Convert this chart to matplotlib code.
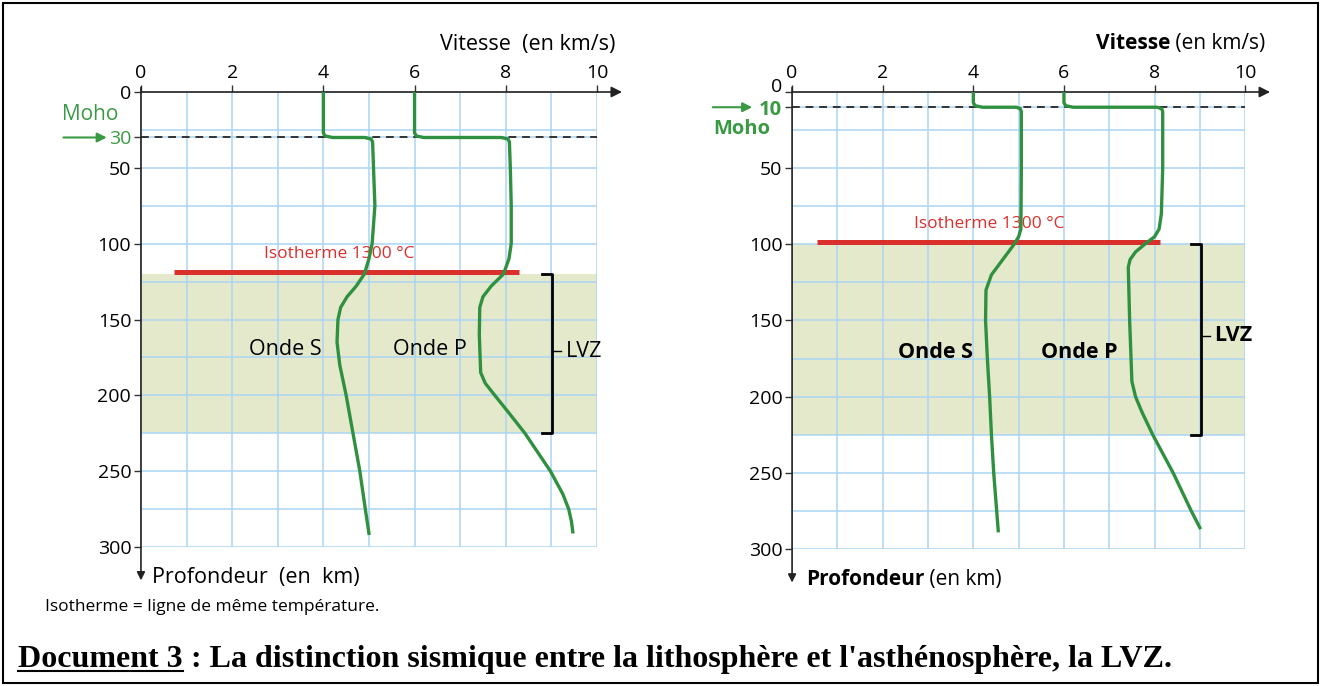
import numpy as np
import matplotlib.pyplot as plt
from matplotlib.patches import Rectangle
from matplotlib.lines import Line2D

plt.rcParams['font.family'] = ['Open Sans', 'DejaVu Sans']

# Panneau gauche : Moho à 30 km
prof_s_g = [0, 27, 29, 30, 30, 31, 33, 50, 75, 100, 110, 120, 128, 135, 142, 150, 165, 180, 190, 200, 225, 250, 275, 291]
vit_s_g = [4.0, 4.0, 4.04, 4.2, 4.9, 5.05, 5.08, 5.1, 5.13, 5.07, 5.0, 4.9, 4.72, 4.52, 4.38, 4.32, 4.3, 4.36, 4.43, 4.5, 4.65, 4.8, 4.92, 5.0]
prof_p_g = [0, 27, 29, 30, 30, 31, 33, 50, 75, 100, 110, 120, 128, 135, 142, 160, 185, 192, 200, 212, 225, 250, 265, 275, 283, 290]
vit_p_g = [6.0, 6.0, 6.04, 6.2, 7.9, 8.05, 8.08, 8.1, 8.12, 8.12, 8.07, 7.95, 7.68, 7.5, 7.43, 7.42, 7.45, 7.55, 7.76, 8.08, 8.42, 8.98, 9.25, 9.38, 9.44, 9.47]

# Panneau droit : Moho à 10 km
prof_s_d = [0, 7, 9, 10, 10, 11, 13, 50, 90, 95, 100, 110, 120, 130, 150, 175, 200, 225, 250, 288]
vit_s_d = [4.0, 4.0, 4.04, 4.2, 4.95, 5.04, 5.06, 5.06, 5.05, 5.0, 4.9, 4.65, 4.4, 4.28, 4.27, 4.31, 4.36, 4.4, 4.45, 4.55]
prof_p_d = [0, 7, 9, 10, 10, 11, 13, 50, 80, 90, 95, 100, 105, 110, 115, 150, 190, 200, 210, 225, 250, 275, 286]
vit_p_d = [6.0, 6.0, 6.04, 6.2, 8.05, 8.16, 8.18, 8.18, 8.15, 8.1, 8.0, 7.78, 7.58, 7.46, 7.42, 7.45, 7.5, 7.58, 7.72, 7.96, 8.41, 8.81, 9.0]

vit_ticks = [0, 2, 4, 6, 8, 10]
prof_ticks = [0, 50, 100, 150, 200, 250, 300]

VERT = '#3a9a44'
VERT_COURBE = '#2f9140'
ROUGE = '#d9302c'
BLEU = '#a9d5f2'
BEIGE = '#e5e9cc'


def panneau(ax, moho, s_prof, s_vit, p_prof, p_vit, lvz, iso, iso_x, lab_y, lvz_y, gras):
    ax.set_xlim(0, 10)
    ax.set_ylim(300, 0)
    for sp in ax.spines.values():
        sp.set_visible(False)
    ax.set_xticks(np.arange(0, 11, 1), minor=True)
    ax.set_yticks(np.arange(0, 301, 25), minor=True)
    ax.set_xticks(vit_ticks)
    ax.set_yticks(sorted(prof_ticks + [moho]))
    ax.xaxis.tick_top()
    ax.tick_params(axis='both', which='minor', length=0)
    ax.tick_params(axis='both', which='major', length=5, width=1, color='#333333',
                   labelsize=14, pad=2)
    ax.grid(True, which='both', color=BLEU, lw=1.1)
    ax.set_axisbelow(True)
    for lab in ax.get_yticklabels():
        if lab.get_text() == str(moho):
            lab.set_color(VERT)
            if gras:
                lab.set_fontweight('bold')
                lab.set_fontsize(14.5)
        if gras and lab.get_text() == '0':
            lab.set_va('baseline')

    # zone LVZ
    ax.axhspan(lvz[0], lvz[1], color=BEIGE, zorder=0, lw=0)
    # Moho
    ax.axhline(moho, color='#333333', lw=1.4, ls=(0, (4, 3)), zorder=2)
    # isotherme
    ax.plot(iso_x, [iso, iso], color=ROUGE, lw=3.6, solid_capstyle='butt', zorder=3)
    ax.text(4.35, iso - 12, 'Isotherme 1300 °C', color=ROUGE, fontsize=12.5,
            ha='center', va='center')

    # courbes
    ax.plot(s_vit, s_prof, color=VERT_COURBE, lw=2.4, zorder=4, solid_joinstyle='round')
    ax.plot(p_vit, p_prof, color=VERT_COURBE, lw=2.4, zorder=4, solid_joinstyle='round')

    w = 'bold' if gras else 'normal'
    ax.text(3.17, lab_y, 'Onde S', fontsize=15.5, ha='center', va='center', fontweight=w)
    ax.text(6.34, lab_y, 'Onde P', fontsize=15.5, ha='center', va='center', fontweight=w)

    # accolade LVZ
    xb = 9.02
    ax.plot([xb - 0.22, xb, xb, xb - 0.22], [lvz[0], lvz[0], lvz[1], lvz[1]],
            color='black', lw=2, clip_on=False, zorder=5)
    ax.plot([xb, xb + 0.2], [lvz_y, lvz_y], color='black', lw=1, clip_on=False)
    ax.text(xb + 0.3, lvz_y, 'LVZ', fontsize=15.5, ha='left', va='center', fontweight=w)

    # axes fléchés
    ax.annotate('', xy=(10.55, 0), xytext=(0, 0), annotation_clip=False,
                arrowprops=dict(arrowstyle='-|>', color='#222222', lw=1.2,
                                mutation_scale=16, shrinkA=0, shrinkB=0))
    ax.annotate('', xy=(0, 322), xytext=(0, -3), annotation_clip=False,
                arrowprops=dict(arrowstyle='-|>', color='#222222', lw=1.2,
                                mutation_scale=12, shrinkA=0, shrinkB=0))


fig = plt.figure(figsize=(13.21, 6.86), dpi=100)
ax1 = fig.add_axes([0.1067, 0.2026, 0.3452, 0.6633])
ax2 = fig.add_axes([0.5996, 0.1997, 0.3430, 0.6662])

panneau(ax1, 30, prof_s_g, vit_s_g, prof_p_g, vit_p_g, (120, 225), 118.5, [0.73, 8.28], 170, 171, False)
panneau(ax2, 10, prof_s_d, vit_s_d, prof_p_d, vit_p_d, (100, 225), 98.5, [0.55, 8.13], 171, 160, True)

# titres des axes
ax1.text(10.4, -31, 'Vitesse  (en km/s)', fontsize=15.5, ha='right', va='center', clip_on=False)
ax1.text(0.25, 320, 'Profondeur  (en  km)', fontsize=15.5, ha='left', va='center', clip_on=False)
t_en = ax2.text(10.45, -32, ' (en km/s)', fontsize=15, ha='right', va='center')
ax2.annotate('Vitesse', xy=(0, 0.5), xycoords=t_en, fontsize=15, fontweight='bold',
             ha='right', va='center')
t_pr = ax2.text(0.3, 320, 'Profondeur', fontsize=15, fontweight='bold', ha='left', va='center')
ax2.annotate(' (en km)', xy=(1, 0.5), xycoords=t_pr, fontsize=15, ha='left', va='center')

# Moho
ax1.text(-1.12, 15, 'Moho', color=VERT, fontsize=15, ha='center', va='center')
ax1.annotate('', xy=(-0.75, 30), xytext=(-1.7, 30), annotation_clip=False,
             arrowprops=dict(arrowstyle='-|>', color=VERT, lw=1.5, mutation_scale=14,
                             shrinkA=0, shrinkB=0))
ax2.text(-1.1, 24.5, 'Moho', color=VERT, fontsize=14.5, fontweight='bold', ha='center', va='center')
ax2.annotate('', xy=(-0.88, 10), xytext=(-1.75, 10), annotation_clip=False,
             arrowprops=dict(arrowstyle='-|>', color=VERT, lw=1.5, mutation_scale=14,
                             shrinkA=0, shrinkB=0))

fig.text(45 / 1321, 1 - 607 / 686, 'Isotherme = ligne de même température.', fontsize=12.5,
         ha='left', va='center')

# légende du document
t1 = fig.text(18 / 1321, 1 - 667 / 686, 'Document 3', fontsize=23, fontweight='bold',
              family='Liberation Serif', va='baseline', ha='left')
fig.canvas.draw()
r = fig.canvas.get_renderer()
bb = t1.get_window_extent(r)
W, H = fig.bbox.width, fig.bbox.height
fig.text(bb.x1 / W, 1 - 667 / 686,
         " : La distinction sismique entre la lithosphère et l'asthénosphère, la LVZ.",
         fontsize=23, fontweight='bold', family='Liberation Serif', va='baseline', ha='left')
fig.add_artist(Line2D([bb.x0 / W, bb.x1 / W], [1 - 671 / 686, 1 - 671 / 686],
                      color='black', lw=1.5, transform=fig.transFigure))

fig.add_artist(Rectangle((0.0023, 0.0044), 0.9954, 0.9912, transform=fig.transFigure,
                         fill=False, lw=1.5, ec='black'))

fig.savefig('out.png', dpi=100)
